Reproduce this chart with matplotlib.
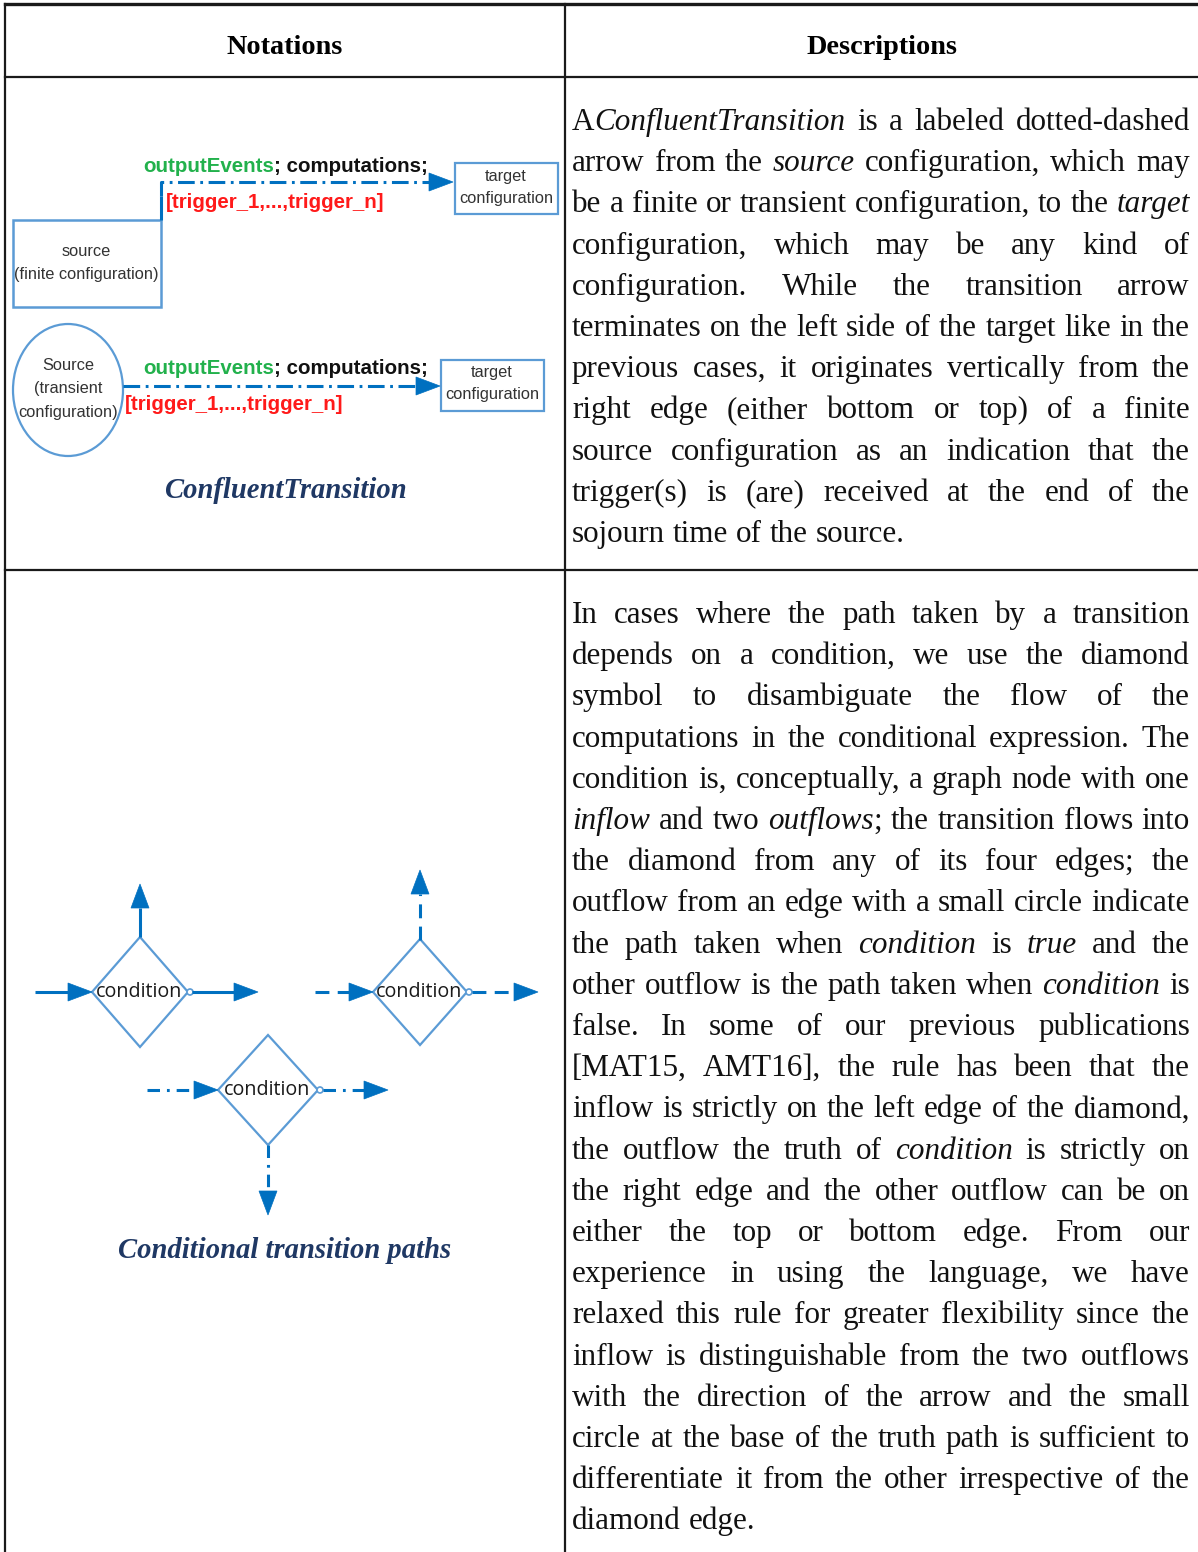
import numpy as np
import matplotlib.pyplot as plt
from matplotlib.patches import Rectangle, Ellipse, Polygon, Circle

plt.rcParams['lines.scale_dashes'] = False

W, H = 1198, 1552
SERIF = 'Liberation Serif'
SANS = 'Liberation Sans'
BLUE = '#0070c0'
LBLUE = '#5b9bd5'
NAVY = '#1f3864'

headers = ['Notations', 'Descriptions']
captions = ['ConfluentTransition', 'Conditional transition paths']
label_events = 'outputEvents'
label_comp = '; computations;'
label_trig = '[trigger_1,...,trigger_n]'
src_finite = ['source', '(finite configuration)']
src_transient = ['Source', '(transient', 'configuration)']
target_lines = ['target', 'configuration']
cond_label = 'condition'

desc_1 = [
    'A*ConfluentTransition* is a labeled dotted-dashed',
    'arrow from the *source* configuration, which may',
    'be a finite or transient configuration, to the *target*',
    'configuration, which may be any kind of',
    'configuration. While the transition arrow',
    'terminates on the left side of the target like in the',
    'previous cases, it originates vertically from the',
    'right edge (either bottom or top) of a finite',
    'source configuration as an indication that the',
    'trigger(s) is (are) received at the end of the',
    'sojourn time of the source.',
]
desc_2 = [
    'In cases where the path taken by a transition',
    'depends on a condition, we use the diamond',
    'symbol to disambiguate the flow of the',
    'computations in the conditional expression. The',
    'condition is, conceptually, a graph node with one',
    '*inflow* and two *outflows*; the transition flows into',
    'the diamond from any of its four edges; the',
    'outflow from an edge with a small circle indicate',
    'the path taken when *condition* is *true* and the',
    'other outflow is the path taken when *condition* is',
    'false. In some of our previous publications',
    '[MAT15, AMT16], the rule has been that the',
    'inflow is strictly on the left edge of the diamond,',
    'the outflow the truth of *condition* is strictly on',
    'the right edge and the other outflow can be on',
    'either the top or bottom edge. From our',
    'experience in using the language, we have',
    'relaxed this rule for greater flexibility since the',
    'inflow is distinguishable from the two outflows',
    'with the direction of the arrow and the small',
    'circle at the base of the truth path is sufficient to',
    'differentiate it from the other irrespective of the',
    'diamond edge.',
]

fig = plt.figure(figsize=(W / 100, H / 100), dpi=100)
ax = fig.add_axes([0, 0, 1, 1])
ax.set_xlim(0, W)
ax.set_ylim(H, 0)
ax.axis('off')
renderer = fig.canvas.get_renderer()


def text_width(s, **kw):
    t = ax.text(0, 0, s, **kw)
    w = t.get_window_extent(renderer).width
    t.remove()
    return w


def parse_word(w):
    segs = []
    italic = False
    for part in w.split('*'):
        if part:
            segs.append((part, italic))
        italic = not italic
    return segs


def draw_paragraph(lines, x0, x1, y_first, dy, fs):
    space = text_width('a a', family=SERIF, fontsize=fs) - text_width('aa', family=SERIF, fontsize=fs)
    for i, line in enumerate(lines):
        words = [parse_word(w) for w in line.split()]
        widths = [[text_width(s, family=SERIF, fontsize=fs, style='italic' if it else 'normal')
                   for s, it in wd] for wd in words]
        total = sum(sum(w) for w in widths)
        last = i == len(lines) - 1
        gap = space if (last or len(words) < 2) else (x1 - x0 - total) / (len(words) - 1)
        x = x0
        y = y_first + i * dy
        for wd, ws in zip(words, widths):
            for (s, it), w in zip(wd, ws):
                ax.text(x, y, s, family=SERIF, fontsize=fs, style='italic' if it else 'normal',
                        ha='left', va='baseline', color='#111111')
                x += w
            x += gap


def arrow(pts, ls='-', head=True, lw=2.2):
    pts = np.asarray(pts, float)
    tip = pts[-1]
    d = pts[-1] - pts[-2]
    d = d / np.hypot(*d)
    L, Wd = 24, 9
    base = tip - d * L
    line = np.vstack([pts[:-1], base])
    ax.plot(line[:, 0], line[:, 1], color=BLUE, lw=lw, ls=ls, solid_capstyle='butt',
            dash_capstyle='butt')
    if head:
        n = np.array([-d[1], d[0]])
        ax.add_patch(Polygon([tip, base + n * Wd, base - n * Wd], closed=True,
                             facecolor=BLUE, edgecolor=BLUE, lw=0.5))


# table grid
ax.plot([5, W], [4, 4], color='#1a1a1a', lw=2.4)
ax.plot([5, 5], [4, H], color='#1a1a1a', lw=1.6)
ax.plot([565, 565], [4, H], color='#1a1a1a', lw=1.6)
ax.plot([5, W], [77, 77], color='#1a1a1a', lw=1.6)
ax.plot([5, W], [570, 570], color='#1a1a1a', lw=1.6)

ax.text(285, 47, headers[0], family=SERIF, weight='bold', fontsize=20.3, ha='center', va='center')
ax.text(882, 47, headers[1], family=SERIF, weight='bold', fontsize=20.3, ha='center', va='center')

# descriptions
draw_paragraph(desc_1, 572, 1190, 130, 41.2, 22.4)
draw_paragraph(desc_2, 572, 1190, 623, 41.2, 22.4)

# --- ConfluentTransition diagram ---
dashdot = (0, (12, 4, 2, 4))
lab = dict(family=SANS, fontsize=11.8, color='#333333', ha='center', va='center')
BFS = 14.8

ax.add_patch(Rectangle((13, 220), 148, 87, fill=False, edgecolor=LBLUE, lw=1.8))
for k, s in enumerate(src_finite):
    ax.text(86, 251 + k * 23, s, **lab)
ax.add_patch(Rectangle((455, 163), 103, 51, fill=False, edgecolor=LBLUE, lw=1.6))
for k, s in enumerate(target_lines):
    ax.text(506, 177 + k * 22, s, **lab)
ax.plot([161, 161], [220, 196], color=BLUE, lw=2.2, solid_capstyle='butt')
arrow([(161, 196), (161, 182), (453, 182)], ls=dashdot)

ax.text(143, 167, label_events, family=SANS, weight='bold', fontsize=BFS, color='#22b14c',
        ha='left', va='center')
we = text_width(label_events, family=SANS, weight='bold', fontsize=BFS)
ax.text(143 + we, 167, label_comp, family=SANS, weight='bold', fontsize=BFS, color='#111111',
        ha='left', va='center')
ax.text(166, 203, label_trig, family=SANS, weight='bold', fontsize=BFS, color='#ff1a1a',
        ha='left', va='center')

ax.add_patch(Ellipse((68, 390), 110, 132, fill=False, edgecolor=LBLUE, lw=1.6))
for k, s in enumerate(src_transient):
    ax.text(68, 366 + k * 23, s, **lab)
ax.add_patch(Rectangle((441, 360), 103, 51, fill=False, edgecolor=LBLUE, lw=1.6))
for k, s in enumerate(target_lines):
    ax.text(492, 373 + k * 22, s, **lab)
arrow([(123, 386), (440, 386)], ls=dashdot)

ax.text(143, 369, label_events, family=SANS, weight='bold', fontsize=BFS, color='#22b14c',
        ha='left', va='center')
ax.text(143 + we, 369, label_comp, family=SANS, weight='bold', fontsize=BFS, color='#111111',
        ha='left', va='center')
ax.text(125, 404, label_trig, family=SANS, weight='bold', fontsize=BFS, color='#ff1a1a',
        ha='left', va='center')

ax.text(285, 490, captions[0], family=SERIF, weight='bold', style='italic', fontsize=20.6,
        color=NAVY, ha='center', va='center')

# --- Conditional transition diagrams ---
def diamond(cx, cy, hw, hh):
    ax.add_patch(Polygon([(cx - hw, cy), (cx, cy - hh), (cx + hw, cy), (cx, cy + hh)],
                         closed=True, fill=False, edgecolor=LBLUE, lw=1.6))
    ax.text(cx - 1, cy, cond_label, family='Open Sans', fontsize=14.2, color='#1a1a1a',
            ha='center', va='center')
    ax.add_patch(Circle((cx + hw + 2, cy), 3, facecolor='white', edgecolor=LBLUE, lw=1.2))


dashed = (0, (10, 6))
dashdot2 = (0, (9, 5, 2, 5))

diamond(140, 992, 48, 55)
arrow([(35, 992), (92, 992)])
arrow([(192, 992), (258, 992)])
arrow([(140, 937), (140, 884)])

diamond(420, 992, 47, 53)
arrow([(315, 992), (373, 992)], ls=dashed)
arrow([(472, 992), (538, 992)], ls=dashed)
arrow([(420, 940), (420, 870)], ls=dashed)

diamond(268, 1090, 50, 55)
arrow([(147, 1090), (218, 1090)], ls=dashdot2)
arrow([(323, 1090), (388, 1090)], ls=dashdot2)
arrow([(268, 1145), (268, 1215)], ls=dashdot2)

ax.text(285, 1251, captions[1], family=SERIF, weight='bold', style='italic', fontsize=20.6,
        color=NAVY, ha='center', va='center')

fig.savefig('out.png', dpi=100)
